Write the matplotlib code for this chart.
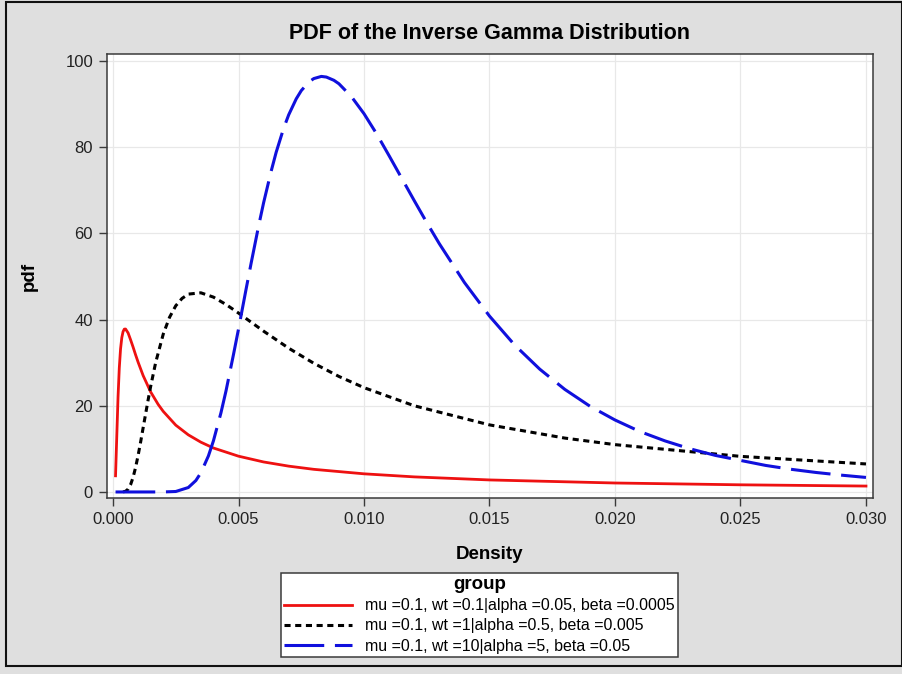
import matplotlib
matplotlib.use("Agg")
import matplotlib.pyplot as plt
from matplotlib.patches import Rectangle

plt.rcParams['font.family'] = ['Liberation Sans', 'DejaVu Sans']

# Red: mu=0.1, wt=0.1 | alpha=0.05, beta=0.0005
red_x = [0.0001, 0.00015, 0.0002, 0.00025, 0.0003, 0.00035, 0.0004, 0.00045, 0.0005, 0.0006,
         0.0007, 0.0008, 0.0009, 0.001, 0.0012, 0.0015, 0.0018, 0.002, 0.0025, 0.003,
         0.0035, 0.004, 0.005, 0.006, 0.007, 0.008, 0.010, 0.012, 0.015, 0.020, 0.025, 0.030]
red_y = [3.75, 12.98, 22.1, 28.8, 33.2, 35.8, 37.2, 37.78, 37.8, 36.9,
         35.3, 33.6, 31.8, 30.1, 27.0, 23.2, 20.3, 18.7, 15.5, 13.25,
         11.55, 10.2, 8.3, 6.96, 5.99, 5.25, 4.21, 3.5, 2.79, 2.08, 1.66, 1.37]

# Black: mu=0.1, wt=1 | alpha=0.5, beta=0.005
blk_x = [0.0004, 0.0005, 0.0006, 0.0007, 0.0008, 0.0009, 0.001, 0.0011, 0.0012, 0.0014,
         0.0015, 0.0017, 0.002, 0.00225, 0.0025, 0.00275, 0.003, 0.0035, 0.004, 0.0045,
         0.005, 0.006, 0.007, 0.008, 0.009, 0.010, 0.012, 0.015, 0.018, 0.020, 0.025, 0.030]
blk_y = [0.02, 0.16, 0.65, 1.7, 3.4, 5.71, 8.5, 11.6, 14.9, 21.4,
         24.5, 30.05, 36.6, 40.5, 43.2, 44.9, 45.9, 46.2, 45.2, 43.5,
         41.5, 37.3, 33.35, 29.85, 26.8, 24.2, 20.0, 15.56, 12.5, 10.98, 8.26, 6.5]

# Blue: mu=0.1, wt=10 | alpha=5, beta=0.05
blu_x = [0.0001, 0.001, 0.002, 0.0025, 0.003, 0.0033, 0.0035, 0.0038, 0.004, 0.0043,
         0.0045, 0.0048, 0.005, 0.0053, 0.0055, 0.0058, 0.006, 0.0063, 0.0065, 0.0068,
         0.007, 0.0073, 0.0075, 0.0078, 0.008, 0.0083, 0.0085, 0.0088, 0.009, 0.0095,
         0.010, 0.0105, 0.011, 0.0115, 0.012, 0.0125, 0.013, 0.014, 0.015, 0.016,
         0.017, 0.018, 0.019, 0.020, 0.021, 0.022, 0.023, 0.024, 0.026, 0.027,
         0.028, 0.029, 0.030]
blu_y = [0.0, 0.0, 0.003, 0.11, 1.03, 2.65, 4.43, 8.35, 11.85, 18.36,
         23.4, 31.9, 37.8, 47.0, 53.0, 61.7, 67.1, 74.4, 78.8, 84.4,
         87.5, 91.2, 93.1, 95.1, 95.9, 96.4, 96.25, 95.5, 94.7, 91.7,
         87.75, 83.1, 78.0, 72.8, 67.6, 62.5, 57.6, 48.6, 40.8, 34.1,
         28.5, 23.8, 19.9, 16.7, 14.0, 11.83, 10.0, 8.48, 6.16, 5.27,
         4.53, 3.91, 3.37]

labels = ["mu =0.1, wt =0.1|alpha =0.05, beta =0.0005",
          "mu =0.1, wt =1|alpha =0.5, beta =0.005",
          "mu =0.1, wt =10|alpha =5, beta =0.05"]
x_ticks = [0.000, 0.005, 0.010, 0.015, 0.020, 0.025, 0.030]
y_ticks = [0, 20, 40, 60, 80, 100]

bg = '#dfdfdf'
fig = plt.figure(figsize=(9.03, 6.74), dpi=100, facecolor=bg)
ax = fig.add_axes([107/903, 1-498/674, (873-107)/903, (498-54)/674])
ax.set_facecolor('white')

ax.plot(red_x, red_y, color='#ee1111', lw=2.0, label=labels[0], zorder=3)
ax.plot(blk_x, blk_y, color='black', lw=2.2, dashes=(2.0, 1.5), label=labels[1], zorder=3)
ax.plot(blu_x, blu_y, color='#1010dd', lw=2.2, dashes=(13, 3.5), label=labels[2], zorder=3)

ax.set_xlim(-0.00024, 0.03028)
ax.set_ylim(-1.4, 101.6)
ax.set_xticks(x_ticks)
ax.set_xticklabels([f"{v:.3f}" for v in x_ticks])
ax.set_yticks(y_ticks)
ax.grid(True, color='#e8e8e8', lw=0.9, zorder=0)
ax.set_axisbelow(True)
for s in ax.spines.values():
    s.set_color('#3a3a3a')
    s.set_linewidth(1.1)
ax.tick_params(direction='out', length=6, width=1.0, color='#3a3a3a',
               labelsize=12, labelcolor='#222222', pad=4)

ax.set_title("PDF of the Inverse Gamma Distribution", fontsize=15.5, fontweight='bold', pad=11)
ax.set_xlabel("Density", fontsize=13.5, fontweight='bold', labelpad=14)
ax.set_ylabel("pdf", fontsize=13.5, fontweight='bold', labelpad=20)

leg = ax.legend(loc='upper center', bbox_to_anchor=(0.486, -0.169), title="group",
                fontsize=11.5, title_fontproperties={'weight': 'bold', 'size': 13.5},
                frameon=True, fancybox=False, framealpha=1.0, handlelength=4.3,
                handletextpad=0.8, borderpad=0.2, labelspacing=0.32, borderaxespad=0)
leg.get_frame().set_edgecolor('#3a3a3a')
leg.get_frame().set_linewidth(1.1)
leg.get_frame().set_facecolor('white')

fig.patches.append(Rectangle((6/903, 1-666/674), 896/903, 664/674, transform=fig.transFigure,
                             fill=False, edgecolor='#111111', lw=1.5))

fig.savefig("out.png", dpi=100, facecolor=bg)
